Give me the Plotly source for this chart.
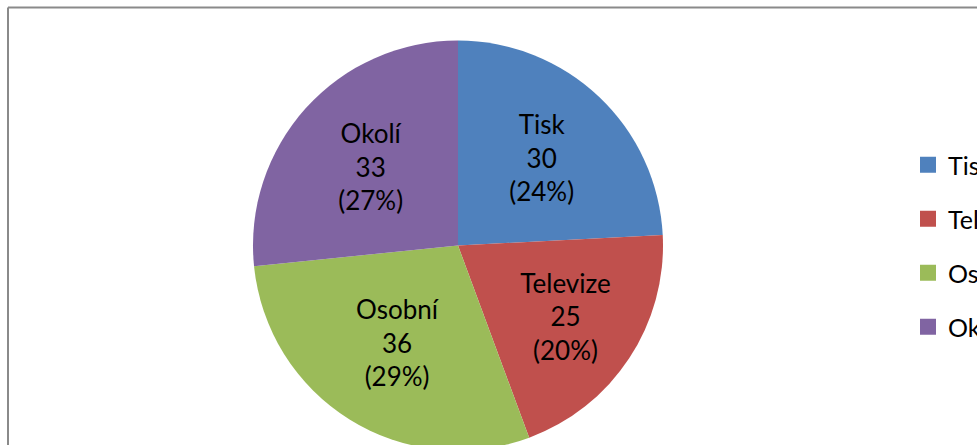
import plotly.graph_objects as go

labels = ["Tisk", "Televize", "Osobní", "Okolí"]
values = [30, 25, 36, 33]
colors = ["#4F81BD", "#C0504D", "#9BBB59", "#8064A2"]

W, H = 1060, 470
FONT = "Lato"

fig = go.Figure()
fig.add_trace(go.Pie(
    labels=labels, values=values, sort=False, direction="clockwise", rotation=0,
    marker=dict(colors=colors, line=dict(width=0)),
    texttemplate="%{label}<br>%{value}<br>(%{percent:.0%})",
    textposition="inside", insidetextorientation="horizontal",
    textfont=dict(family=FONT, size=26, color="black"),
    domain=dict(x=[253 / W, 663 / W], y=[1 - 451 / H, 1 - 40 / H]),
    showlegend=False, hoverinfo="label+value+percent",
))
for lab, col in zip(labels, colors):
    fig.add_trace(go.Scatter(
        x=[None], y=[None], mode="markers", name=lab, legendgroup=lab,
        marker=dict(symbol="square", size=16, color=col), showlegend=True,
    ))

fig.update_layout(
    width=W, height=H, margin=dict(l=0, r=0, t=0, b=0),
    paper_bgcolor="white", plot_bgcolor="white",
    xaxis=dict(visible=False), yaxis=dict(visible=False),
    font=dict(family=FONT, color="black"),
    legend=dict(x=908 / W, xanchor="left", y=1 - 142 / H, yanchor="top",
                font=dict(family=FONT, size=25, color="black"),
                tracegroupgap=18.5, traceorder="grouped", bgcolor="rgba(0,0,0,0)",
                itemsizing="trace"),
    shapes=[
        dict(type="line", xref="paper", yref="paper", x0=8 / W, x1=1.2, y0=1 - 7.5 / H, y1=1 - 7.5 / H,
             line=dict(color="#8a8a8a", width=2)),
        dict(type="line", xref="paper", yref="paper", x0=8 / W, x1=8 / W, y0=-0.2, y1=1 - 7.5 / H,
             line=dict(color="#8a8a8a", width=2)),
    ],
)

fig.write_html("out.html", config={"displayModeBar": False},
               post_script="document.body.style.margin='0';document.body.style.overflow='hidden';")
